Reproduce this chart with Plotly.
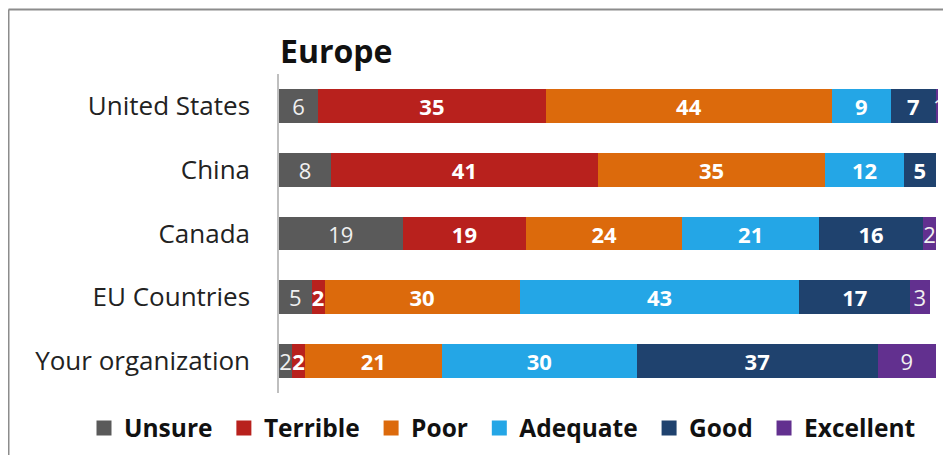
import plotly.graph_objects as go

categories = ["United States", "China", "Canada", "EU Countries", "Your organization"]
series = ["Unsure", "Terrible", "Poor", "Adequate", "Good", "Excellent"]

unsure = [6, 8, 19, 5, 2]
terrible = [35, 41, 19, 2, 2]
poor = [44, 35, 24, 30, 21]
adequate = [9, 12, 21, 43, 30]
good = [7, 5, 16, 17, 37]
excellent = [1, 0, 2, 3, 9]

values = [unsure, terrible, poor, adequate, good, excellent]
colors = ["#5a5a5a", "#b8211d", "#dc6a0c", "#24a6e6", "#1f426e", "#62308f"]
bold = [False, True, True, True, True, False]

# page is drawn with an 8px body margin, so pixel targets are shifted by 8
W, H = 951, 455
L, R, T, B = 271, 21, 66, 70
pw = W - L - R
ph = H - T - B
FONT = "Open Sans"

fig = go.Figure()
for name, vals, col, b in zip(series, values, colors, bold):
    fig.add_trace(go.Bar(
        y=categories, x=vals, name=name, orientation="h",
        marker=dict(color=col, line=dict(width=0)),
        text=[str(v) for v in vals], textposition="inside",
        insidetextanchor="middle", textangle=0,
        textfont=dict(family=FONT, size=22, color="white" if b else "#f0f0f0",
                      weight="bold" if b else "normal"),
        width=0.53, showlegend=False,
    ))

# legend entries with bigger square swatches
for name, col in zip(series, colors):
    fig.add_trace(go.Scatter(
        x=[None], y=[None], mode="markers", name=name + "\u00a0",
        marker=dict(symbol="square", size=15, color=col),
    ))

# chart frame (top and left edges)
fig.add_shape(type="line", xref="paper", yref="paper",
              x0=(0.5 - L) / pw, x1=(W + 5 - L) / pw,
              y0=1 + (T - 1.5) / ph, y1=1 + (T - 1.5) / ph,
              line=dict(color="#8c8c8c", width=2))
fig.add_shape(type="line", xref="paper", yref="paper",
              x0=(0.5 - L) / pw, x1=(0.5 - L) / pw,
              y0=1 + (T - 1.5) / ph, y1=-(B + 5) / ph,
              line=dict(color="#8c8c8c", width=2))

fig.update_layout(
    width=W, height=H,
    margin=dict(l=L, r=R, t=T, b=B),
    barmode="stack",
    plot_bgcolor="white", paper_bgcolor="white",
    font=dict(family=FONT, size=20, color="#222"),
    title=dict(text="<b>Europe</b>", x=(L + 1) / W, xanchor="left",
               y=1 - 44 / H, yanchor="middle",
               font=dict(family=FONT, size=32, color="#111")),
    xaxis=dict(range=[0, 101.3], visible=False, showgrid=False),
    yaxis=dict(autorange="reversed", showline=True, linecolor="#bfbfbf",
               linewidth=1.5, ticks="", ticklabelstandoff=22,
               tickfont=dict(size=26, color="#222")),
    legend=dict(orientation="h", x=(76 - L) / pw, xanchor="left",
                y=-(420 - T - ph) / ph, yanchor="middle",
                font=dict(size=24.5, color="#111", weight="bold"),
                itemwidth=30, traceorder="normal"),
    uniformtext=dict(mode="show", minsize=22),
    bargap=0.47,
)

fig.write_html("out.html")
